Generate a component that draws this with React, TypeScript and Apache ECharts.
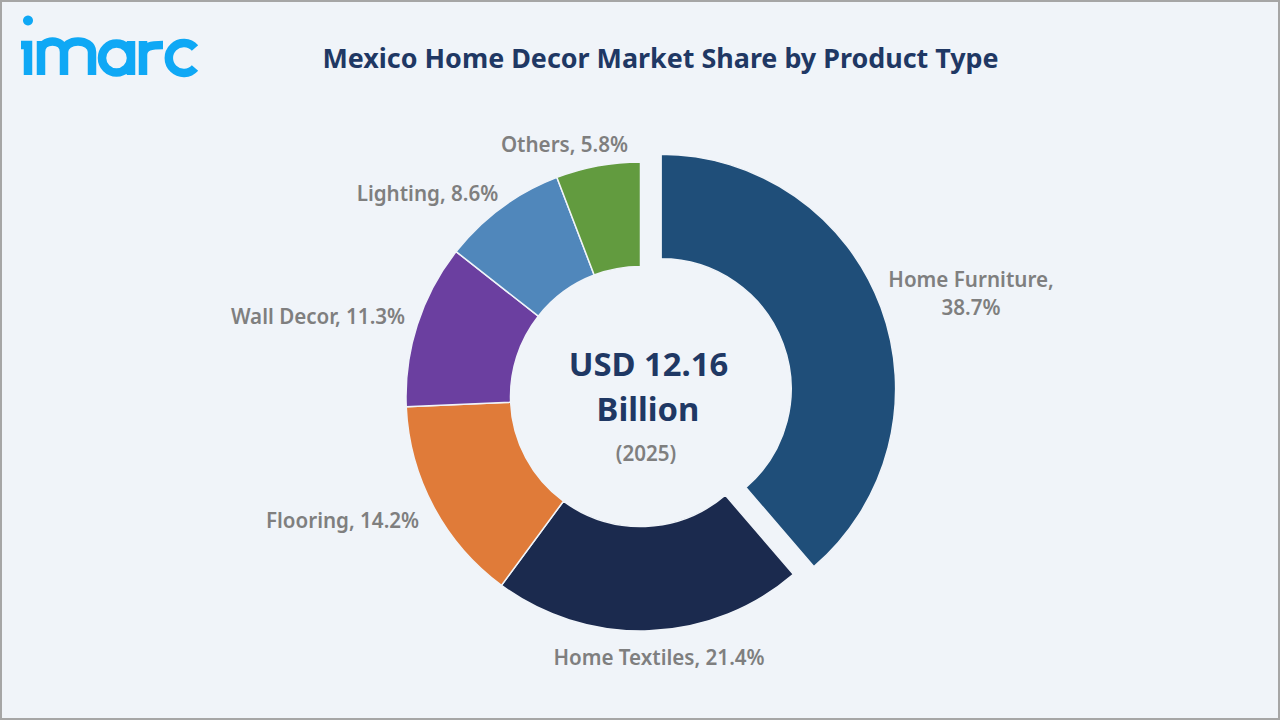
import { useEffect, useRef } from 'react'
import * as echarts from 'echarts'

const categories = ['Home Furniture', 'Home Textiles', 'Flooring', 'Wall Decor', 'Lighting', 'Others']
const shares = [38.7, 21.4, 14.2, 11.3, 8.6, 5.8]
const colors = ['#1F4E79', '#1B2A4E', '#E07B39', '#6B3FA0', '#5087BB', '#629B3F']

const chartTitle = 'Mexico Home Decor Market Share by Product Type'
const centerValue = ['USD 12.16', 'Billion']
const centerYear = '(2025)'

// where each label sits, same order as categories
// labelLayout does not reach the selected slice, so the first one is a graphic text
const labelSpots = [
  [971, 293],
  [659, 657],
  [342.5, 520],
  [318, 316],
  [427.5, 193],
  [564.5, 144]
]

// logo letters, drawn as thick strokes
const logoPath =
  'M21 45 H28 V75 ' +
  'M41 75 V41 M41 52 C41 38 64 38 64 52 V75 M64 52 C64 38 92 38 92 52 V75 ' +
  'M131 41 V75 M131 58 A14.5 14.5 0 1 1 102 58 A14.5 14.5 0 1 1 131 58 ' +
  'M143 75 V41 M143 55 C143 46 152 45 163 45 ' +
  'M195 48 A15 15 0 1 0 195 68'

echarts.graphic.registerShape('imarcLogo', echarts.graphic.extendPath(logoPath, {}))

export default function App() {
  const chartRef = useRef<HTMLDivElement>(null)

  useEffect(() => {
    if (!chartRef.current) return
    document.body.style.margin = '0'
    document.body.style.background = '#F0F4F9'

    const chart = echarts.init(chartRef.current, undefined, { renderer: 'svg' })

    chart.setOption({
      animation: false,
      backgroundColor: '#F0F4F9',
      title: {
        text: chartTitle,
        left: 655.5,
        top: 39,
        textAlign: 'center',
        textStyle: {
          color: '#1F3864',
          fontFamily: 'Noto Sans',
          fontWeight: 700,
          fontSize: 26.9
        }
      },
      graphic: [
        {
          type: 'rect',
          shape: { x: 1, y: 1, width: 1278, height: 718 },
          style: { fill: 'none', stroke: '#A6A6A6', lineWidth: 2 }
        },
        {
          type: 'imarcLogo',
          x: 0,
          y: 0,
          style: { fill: 'none', stroke: '#0FA8F5', lineWidth: 8.5 }
        },
        { type: 'circle', shape: { cx: 28, cy: 20.5, r: 5 }, style: { fill: '#0FA8F5' } },
        {
          type: 'text',
          x: 648.5,
          y: 363.5,
          style: {
            text: centerValue[0],
            fill: '#1F3864',
            font: '700 32.8px "Noto Sans"',
            textAlign: 'center',
            textVerticalAlign: 'middle'
          }
        },
        {
          type: 'text',
          x: 648,
          y: 408.5,
          style: {
            text: centerValue[1],
            fill: '#1F3864',
            font: '700 32.8px "Noto Sans"',
            textAlign: 'center',
            textVerticalAlign: 'middle'
          }
        },
        {
          type: 'text',
          x: 646,
          y: 453,
          style: {
            text: centerYear,
            fill: '#7F7F7F',
            font: '600 20.6px "Noto Sans"',
            textAlign: 'center',
            textVerticalAlign: 'middle'
          }
        },
        {
          type: 'text',
          x: labelSpots[0][0],
          y: labelSpots[0][1],
          style: {
            text: `${categories[0]},\n${shares[0]}%`,
            fill: '#7F7F7F',
            font: '600 20.6px "Noto Sans"',
            lineHeight: 28,
            textAlign: 'center',
            textVerticalAlign: 'middle'
          }
        }
      ],
      series: [
        {
          type: 'pie',
          center: [640.5, 396.5],
          radius: [130, 234.5],
          startAngle: 90,
          clockwise: true,
          selectedMode: 'multiple',
          selectedOffset: 22,
          avoidLabelOverlap: false,
          emphasis: { disabled: true },
          itemStyle: { borderColor: '#F0F4F9', borderWidth: 1.5 },
          data: categories.map((name, i) => ({
            name,
            value: shares[i],
            selected: i === 0,
            itemStyle: { color: colors[i] },
            label: { show: i !== 0 }
          })),
          label: {
            show: true,
            position: 'outside',
            color: '#7F7F7F',
            fontFamily: 'Noto Sans',
            fontWeight: 600,
            fontSize: 20.6,
            lineHeight: 28,
            align: 'center',
            formatter: (p: any) => `${p.name}, ${p.value}%`
          },
          labelLine: { show: false },
          labelLayout: (p: any) => ({
            x: labelSpots[p.dataIndex][0],
            y: labelSpots[p.dataIndex][1],
            align: 'center',
            verticalAlign: 'middle'
          })
        }
      ]
    })

    return () => chart.dispose()
  }, [])

  return <div ref={chartRef} style={{ width: 1280, height: 720 }} />
}
